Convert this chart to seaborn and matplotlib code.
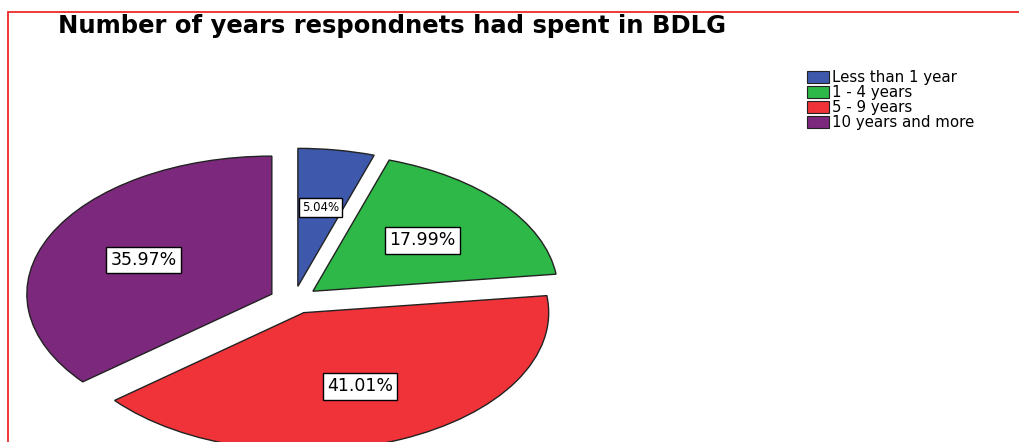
import matplotlib
matplotlib.use("Agg")
import matplotlib.pyplot as plt
from matplotlib.patches import Rectangle
import seaborn as sns

categories = ["Less than 1 year", "1 - 4 years", "5 - 9 years", "10 years and more"]
percentages = [5.04, 17.99, 41.01, 35.97]
colors = ["#3E58AC", "#2EB848", "#EF3338", "#7C287D"]
title = "Number of years respondnets had spent in BDLG"

sns.set_theme(style="white")
plt.rcParams["font.family"] = ["DejaVu Sans"]

W, H = 1019, 442
fig = plt.figure(figsize=(W / 100, H / 100), dpi=100)
fig.patch.set_facecolor("white")

# pie geometry (pixels): centre, horizontal & vertical radius
cx, cy_top, a, b = 294, 300, 245, 138
cy = H - cy_top
ax = fig.add_axes([0, 0, 1, 1])
pal = sns.color_palette(colors)
wedges, texts, autotexts = ax.pie(
    percentages,
    colors=pal,
    startangle=90,
    counterclock=False,
    explode=[0.1] * len(percentages),
    autopct=lambda p: f"{p:.2f}%",
    pctdistance=0.58,
    wedgeprops=dict(edgecolor="#222222", linewidth=1.0),
    textprops=dict(fontsize=12.5, color="black"),
)
for t in autotexts:
    t.set_bbox(dict(boxstyle="square,pad=0.25", facecolor="white", edgecolor="black", linewidth=1.0))
autotexts[0].set_fontsize(8.5)
ax.set_aspect("auto")
ax.set_xlim(-cx / a, (W - cx) / a)
ax.set_ylim(-cy / b, (H - cy) / b)
ax.axis("off")

fig.text(58 / W, 1 - 33 / H, title, fontsize=17.5, fontweight="bold", ha="left", va="baseline", color="black")

handles = [Rectangle((0, 0), 1, 1, facecolor=c, edgecolor="#222222", linewidth=0.8) for c in pal]
leg = fig.legend(handles, categories, loc="upper left", bbox_to_anchor=(807 / W, 1 - 70 / H),
                 frameon=False, fontsize=10.8, labelspacing=0.0, handlelength=1.45, handleheight=0.8,
                 handletextpad=0.2, borderpad=0, borderaxespad=0)
for t in leg.get_texts():
    t.set_color("black")

# red outer frame
fig.patches.append(Rectangle((8 / W, -0.1), 1.2, 1 - 12 / H + 0.1, transform=fig.transFigure,
                             fill=False, edgecolor="#EE2A2A", linewidth=1.3))

fig.savefig("out.png", dpi=100)
